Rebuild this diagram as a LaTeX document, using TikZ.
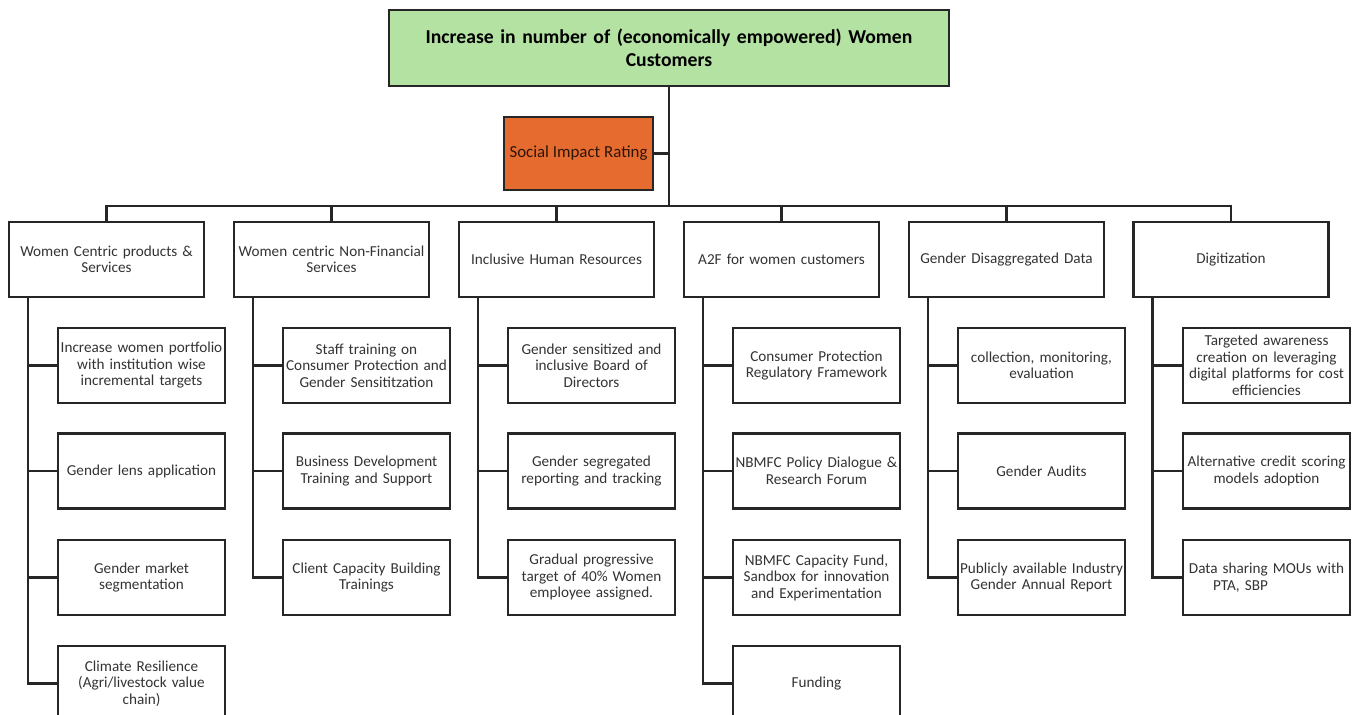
\documentclass[tikz,border=0pt]{standalone}
\usepackage{fontspec}
\setmainfont{Carlito}
\definecolor{goalgreen}{HTML}{B4E2A3}
\definecolor{ratingorange}{HTML}{E56B2F}
\definecolor{boxline}{HTML}{262626}
\definecolor{boxtext}{HTML}{333333}
\tikzset{
  goalbox/.style={draw=boxline, line width=1.2pt, fill=goalgreen, minimum width=11.2cm, minimum height=1.52cm,
    text width=11cm, align=center, inner sep=1pt, font=\bfseries\fontsize{11.2}{13}\selectfont},
  ratingbox/.style={draw=boxline, line width=1.2pt, fill=ratingorange, minimum width=2.98cm, minimum height=1.46cm,
    inner sep=1pt, text=black!80!ratingorange, font=\fontsize{9.6}{11}\selectfont},
  pillarbox/.style={draw=boxline, line width=1.2pt, minimum width=3.9cm, minimum height=1.5cm,
    text width=3.88cm, align=center, inner sep=0.01cm, text=boxtext, font=\fontsize{8.65}{9.4}\selectfont},
  actionbox/.style={draw=boxline, line width=1.2pt, minimum width=3.34cm, minimum height=1.5cm,
    text width=3.32cm, align=center, inner sep=0.01cm, text=boxtext, font=\fontsize{8.65}{9.4}\selectfont},
  link/.style={draw=boxline, line width=1.2pt}
}
\begin{document}
\begin{tikzpicture}[x=0.02cm, y=-0.02cm]
    \useasboundingbox (0,0) rectangle (1357,715);
    \clip (0,0) rectangle (1357,715);

    \node[goalbox] (goal) at (669, 48) {Increase in number of (economically empowered) Women\\Customers};
    \node[ratingbox] (rating) at (578.5, 153.5) {Social Impact Rating};
    \coordinate (bus) at (669, 206);

    \node[pillarbox] (p1) at (106.5, 259.5) {Women Centric products \&\\Services};
    \node[pillarbox] (p2) at (331.5, 259.5) {Women centric Non-Financial\\Services};
    \node[pillarbox] (p3) at (556.5, 259.5) {Inclusive Human Resources};
    \node[pillarbox] (p4) at (781.5, 259.5) {A2F for women customers};
    \node[pillarbox] (p5) at (1006.5, 259.5) {Gender Disaggregated Data};
    \node[pillarbox] (p6) at (1231, 259.5) {Digitization};

    % women centric products
    \node[actionbox] (p1a) at (141.5, 365.5) {Increase women portfolio\\with institution wise\\incremental targets};
    \node[actionbox] (p1b) at (141.5, 471) {Gender lens application};
    \node[actionbox] (p1c) at (141.5, 577.5) {Gender market\\segmentation};
    \node[actionbox] (p1d) at (141.5, 683.5) {Climate Resilience\\(Agri/livestock value\\chain)};

    % non-financial services
    \node[actionbox] (p2a) at (366.5, 365.5) {Staff training on\\Consumer Protection and\\Gender Sensititzation};
    \node[actionbox] (p2b) at (366.5, 471) {Business Development\\Training and Support};
    \node[actionbox] (p2c) at (366.5, 577.5) {Client Capacity Building\\Trainings};

    % human resources
    \node[actionbox] (p3a) at (591.5, 365.5) {Gender sensitized and\\inclusive Board of\\Directors};
    \node[actionbox] (p3b) at (591.5, 471) {Gender segregated\\reporting and tracking};
    \node[actionbox] (p3c) at (591.5, 577.5) {Gradual progressive\\target of 40\% Women\\employee assigned.};

    % a2f
    \node[actionbox] (p4a) at (816.5, 365.5) {Consumer Protection\\Regulatory Framework};
    \node[actionbox] (p4b) at (816.5, 471) {NBMFC Policy Dialogue \&\\Research Forum};
    \node[actionbox] (p4c) at (816.5, 577.5) {NBMFC Capacity Fund,\\Sandbox for innovation\\and Experimentation};
    \node[actionbox] (p4d) at (816.5, 683.5) {Funding};

    % data
    \node[actionbox] (p5a) at (1041.5, 365.5) {collection, monitoring,\\evaluation};
    \node[actionbox] (p5b) at (1041.5, 471) {Gender Audits};
    \node[actionbox] (p5c) at (1041.5, 577.5) {Publicly available Industry\\Gender Annual Report};

    % digitization
    \node[actionbox] (p6a) at (1266.5, 365.5) {Targeted awareness\\creation on leveraging\\digital platforms for cost\\efficiencies};
    \node[actionbox] (p6b) at (1266.5, 471) {Alternative credit scoring\\models adoption};
    \node[actionbox] (p6c) at (1266.5, 577.5) {Data sharing MOUs with\\PTA, SBP\hspace*{1.04cm}};

    % goal to pillars
    \draw[link] (goal.south) -- (bus);
    \draw[link] (rating.east) -- (rating.east -| bus);
    \draw[link] (p1.north) |- (bus) -| (p6.north);
    \draw[link] (p2.north) -- (p2.north |- bus);
    \draw[link] (p3.north) -- (p3.north |- bus);
    \draw[link] (p4.north) -- (p4.north |- bus);
    \draw[link] (p5.north) -- (p5.north |- bus);

    % pillar trunks
    \coordinate (t1) at ([xshift=0.4cm]p1.south west);
    \coordinate (t2) at ([xshift=0.4cm]p2.south west);
    \coordinate (t3) at ([xshift=0.4cm]p3.south west);
    \coordinate (t4) at ([xshift=0.4cm]p4.south west);
    \coordinate (t5) at ([xshift=0.4cm]p5.south west);
    \coordinate (t6) at ([xshift=0.4cm]p6.south west);

    \draw[link] (t1) |- (p1d.west);
    \draw[link] (p1a.west) -- (p1a.west -| t1);
    \draw[link] (p1b.west) -- (p1b.west -| t1);
    \draw[link] (p1c.west) -- (p1c.west -| t1);

    \draw[link] (t2) |- (p2c.west);
    \draw[link] (p2a.west) -- (p2a.west -| t2);
    \draw[link] (p2b.west) -- (p2b.west -| t2);

    \draw[link] (t3) |- (p3c.west);
    \draw[link] (p3a.west) -- (p3a.west -| t3);
    \draw[link] (p3b.west) -- (p3b.west -| t3);

    \draw[link] (t4) |- (p4d.west);
    \draw[link] (p4a.west) -- (p4a.west -| t4);
    \draw[link] (p4b.west) -- (p4b.west -| t4);
    \draw[link] (p4c.west) -- (p4c.west -| t4);

    \draw[link] (t5) |- (p5c.west);
    \draw[link] (p5a.west) -- (p5a.west -| t5);
    \draw[link] (p5b.west) -- (p5b.west -| t5);

    \draw[link] (t6) |- (p6c.west);
    \draw[link] (p6a.west) -- (p6a.west -| t6);
    \draw[link] (p6b.west) -- (p6b.west -| t6);
\end{tikzpicture}
\end{document}
